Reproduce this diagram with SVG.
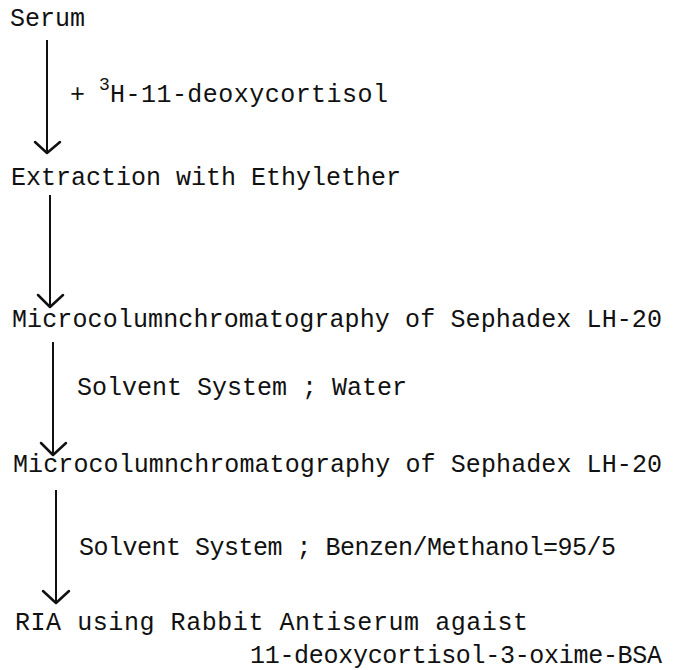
<svg xmlns="http://www.w3.org/2000/svg" width="679" height="670" viewBox="0 0 679 670">
<style>
text{font-family:"Liberation Mono","Courier New",monospace;font-size:25px;fill:#111}
.sup{font-size:18px}
.ln{stroke:#111;stroke-width:2;fill:none}
.hd{stroke:#111;stroke-width:2.5;fill:none;stroke-linecap:round;stroke-linejoin:round}
</style>
<rect width="679" height="670" fill="#fff"/>
<g id="connectors">
<path class="ln" d="M47 40V152"/><path class="hd" d="M35 142L47 153L60 142"/>
<path class="ln" d="M50 195V306"/><path class="hd" d="M38 295L50 307L63 295"/>
<path class="ln" d="M53 342V454"/><path class="hd" d="M41 443L53 455L66 443"/>
<path class="ln" d="M56 490V602"/><path class="hd" d="M43 591L56 603L69 591"/>
</g>
<g id="n-serum"><text x="10" y="26">Serum</text></g>
<g id="l-tracer"><text x="70" y="102">+</text><text class="sup" x="99" y="90">3</text><text x="110" y="102" textLength="278" lengthAdjust="spacing">H-11-deoxycortisol</text></g>
<g id="n-extraction"><text x="11" y="185">Extraction with Ethylether</text></g>
<g id="n-micro1"><text x="12" y="327" textLength="650" lengthAdjust="spacing">Microcolumnchromatography of Sephadex LH-20</text></g>
<g id="l-water"><text x="77" y="395">Solvent System ; Water</text></g>
<g id="n-micro2"><text x="13" y="472" textLength="649" lengthAdjust="spacing">Microcolumnchromatography of Sephadex LH-20</text></g>
<g id="l-benzen"><text x="79" y="555" textLength="537" lengthAdjust="spacing">Solvent System ; Benzen/Methanol=95/5</text></g>
<g id="n-ria"><text x="15" y="630" textLength="513" lengthAdjust="spacing">RIA using Rabbit Antiserum agaist</text><text x="250" y="663" textLength="412" lengthAdjust="spacing">11-deoxycortisol-3-oxime-BSA</text></g>
</svg>
